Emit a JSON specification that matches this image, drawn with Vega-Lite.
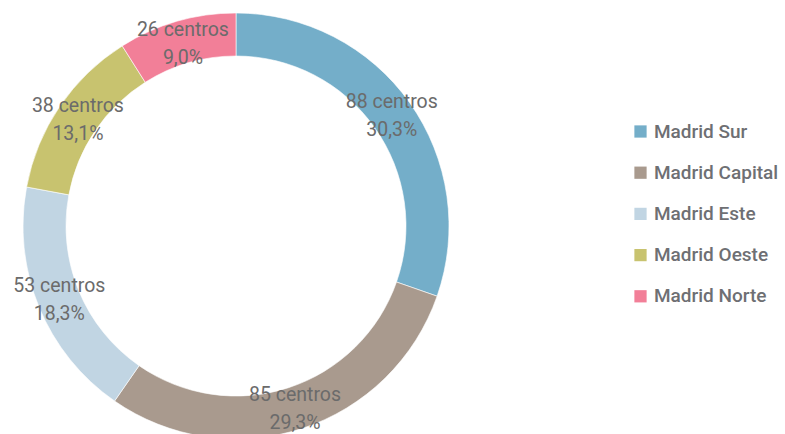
{
  "$schema": "https://vega.github.io/schema/vega-lite/v6.json",
  "width": 472,
  "height": 452,
  "padding": 0,
  "background": "white",
  "config": {"view": {"stroke": null}, "font": "Roboto"},
  "data": {
    "values": [
      {"zona": "Madrid Sur", "centros": 88, "orden": 1, "etiqueta": "88 centros\n30,3%"},
      {"zona": "Madrid Capital", "centros": 85, "orden": 2, "etiqueta": "85 centros\n29,3%"},
      {"zona": "Madrid Este", "centros": 53, "orden": 3, "etiqueta": "53 centros\n18,3%"},
      {"zona": "Madrid Oeste", "centros": 38, "orden": 4, "etiqueta": "38 centros\n13,1%"},
      {"zona": "Madrid Norte", "centros": 26, "orden": 5, "etiqueta": "26 centros\n9,0%"}
    ]
  },
  "encoding": {
    "theta": {"field": "centros", "type": "quantitative", "stack": true},
    "order": {"field": "orden", "type": "quantitative"}
  },
  "layer": [
    {
      "mark": {"type": "arc", "outerRadius": 213, "innerRadius": 170, "stroke": "white", "strokeWidth": 0.6},
      "encoding": {
        "color": {
          "field": "zona",
          "type": "nominal",
          "scale": {
            "domain": ["Madrid Sur", "Madrid Capital", "Madrid Este", "Madrid Oeste", "Madrid Norte"],
            "range": ["#74AEC9", "#A99A8E", "#C1D5E3", "#C8C36F", "#F27F98"]
          },
          "legend": {
            "title": null,
            "orient": "none",
            "legendX": 631,
            "legendY": 122,
            "padding": 0,
            "symbolType": "square",
            "symbolSize": 150,
            "symbolStrokeWidth": 0,
            "labelFontSize": 19,
            "labelFont": "Roboto",
            "labelFontWeight": 500,
            "labelColor": "#6e6f73",
            "labelOffset": 4,
            "rowPadding": 21.2,
            "labelLimit": 300
          }
        }
      }
    },
    {
      "mark": {
        "type": "text",
        "radius": 191,
        "fontSize": 19.5,
        "font": "Roboto",
        "color": "#6b6b6b",
        "lineBreak": "\n",
        "lineHeight": 28,
        "align": "center",
        "baseline": "middle",
        "dy": -13
      },
      "encoding": {
        "text": {"field": "etiqueta", "type": "nominal"}
      }
    }
  ]
}
